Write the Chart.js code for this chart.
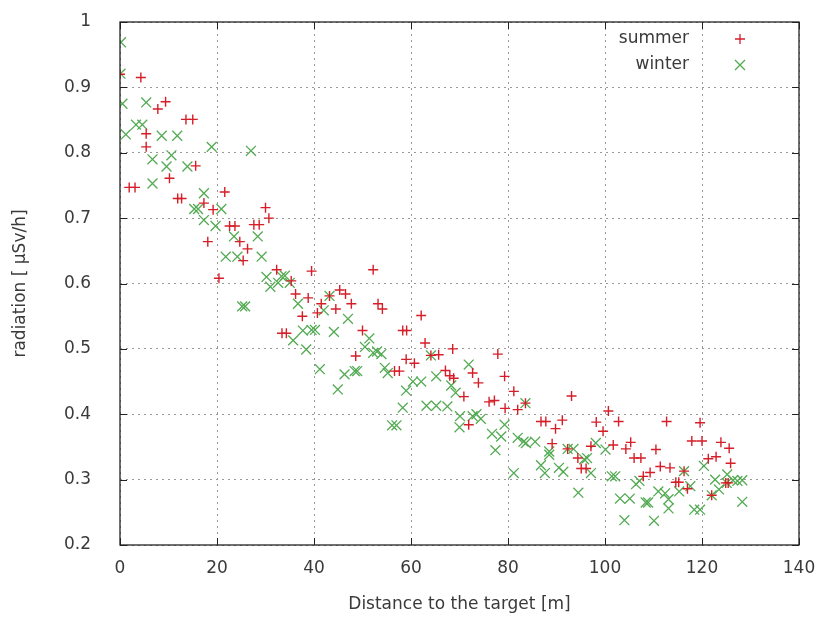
<!DOCTYPE html>
<html>
<head>
<meta charset="utf-8">
<script src="https://cdn.jsdelivr.net/npm/chart.js@4/dist/chart.umd.min.js"></script>
<style>
  html, body { margin: 0; padding: 0; background: #fff; }
  #wrap { width: 820px; height: 617px; }
</style>
</head>
<body>
<div id="wrap"><canvas id="chart" width="820" height="617"></canvas></div>
<script>
// distance [m] and radiation [uSv/h]
const summerX = [0, 4.3, 9.4, 7.8, 13.6, 15.0, 5.4, 5.4, 15.6, 10.2, 1.9, 3.1, 11.9, 12.7, 17.3, 21.6, 19.2, 30.0, 30.7, 22.6,
  23.7, 27.6, 28.7, 18.1, 24.7, 26.3, 25.4, 32.3, 20.4, 35.3, 39.5, 52.2, 36.2, 38.8, 41.5, 43.2, 45.3, 46.5, 47.7, 53.2,
  54.1, 44.5, 40.7, 37.6, 62.1, 33.4, 34.3, 50.0, 58.3, 59.1, 62.9, 48.6, 64.1, 65.7, 68.6, 77.9, 59.0, 60.7, 56.6, 57.6,
  67.1, 68.0, 68.8, 72.7, 73.9, 79.3, 70.9, 81.2, 93.1, 76.1, 77.2, 79.4, 83.6, 82.0, 86.8, 87.8, 91.2, 98.2, 71.9, 89.8,
  89.1, 92.3, 97.1, 94.4, 95.1, 96.1, 100.7, 102.8, 112.7, 119.6, 99.6, 101.7, 105.3, 104.3, 110.5, 117.9, 120.0, 123.9, 125.6, 106.0,
  107.4, 121.3, 122.9, 125.9, 111.4, 113.4, 107.9, 109.3, 116.3, 114.6, 115.2, 117.0, 124.9, 125.4, 122.0]
const summerY = [0.920, 0.915, 0.878, 0.867, 0.851, 0.851, 0.829, 0.809, 0.780, 0.761, 0.747, 0.747, 0.730, 0.730, 0.723, 0.740, 0.713, 0.716, 0.700, 0.688,
  0.688, 0.690, 0.690, 0.664, 0.664, 0.653, 0.635, 0.621, 0.608, 0.604, 0.619, 0.621, 0.584, 0.578, 0.569, 0.581, 0.590, 0.584, 0.569, 0.569,
  0.561, 0.561, 0.555, 0.550, 0.551, 0.524, 0.524, 0.528, 0.528, 0.528, 0.509, 0.489, 0.490, 0.491, 0.500, 0.492, 0.484, 0.478, 0.466, 0.466,
  0.467, 0.459, 0.455, 0.463, 0.448, 0.458, 0.427, 0.435, 0.428, 0.419, 0.421, 0.409, 0.417, 0.407, 0.389, 0.389, 0.391, 0.388, 0.384, 0.378,
  0.355, 0.347, 0.351, 0.333, 0.317, 0.317, 0.405, 0.389, 0.389, 0.387, 0.374, 0.353, 0.357, 0.347, 0.346, 0.359, 0.359, 0.357, 0.348, 0.333,
  0.333, 0.332, 0.335, 0.325, 0.320, 0.318, 0.305, 0.311, 0.313, 0.296, 0.296, 0.286, 0.295, 0.295, 0.276]

const winterX = [0.2, 0.1, 0.5, 5.4, 3.3, 4.6, 1.2, 8.6, 11.8, 18.9, 27.0, 6.7, 10.6, 9.6, 13.9, 6.7, 17.3, 15.3, 16.1, 20.9,
  17.3, 19.7, 23.5, 28.4, 21.8, 24.2, 29.2, 30.2, 31.0, 25.2, 25.8, 33.3, 34.0, 35.0, 32.6, 36.7, 43.2, 42.0, 47.0, 37.7,
  39.5, 40.2, 44.1, 51.4, 35.7, 38.4, 50.5, 52.2, 53.0, 53.9, 64.1, 41.2, 46.3, 48.4, 48.9, 54.6, 55.2, 44.9, 60.4, 62.1,
  65.2, 71.9, 59.0, 58.3, 63.2, 65.2, 67.5, 56.1, 57.0, 68.3, 69.2, 70.1, 72.7, 73.5, 74.4, 70.0, 79.3, 83.6, 76.7, 78.6,
  77.4, 82.0, 83.2, 83.7, 85.6, 88.5, 88.5, 92.3, 93.5, 98.1, 95.7, 96.3, 86.8, 87.6, 90.5, 91.4, 81.2, 97.1, 94.5, 100.1,
  101.4, 102.1, 116.3, 120.4, 106.4, 107.1, 117.6, 111.0, 112.4, 113.1, 115.3, 122.7, 123.5, 125.2, 126.4, 127.3, 128.3, 128.3, 122.0, 103.1,
  105.1, 108.4, 108.9, 113.1, 118.4, 119.6, 104.0, 110.1, 125.1]
const winterY = [0.969, 0.921, 0.875, 0.877, 0.843, 0.843, 0.828, 0.826, 0.826, 0.809, 0.803, 0.790, 0.796, 0.779, 0.779, 0.753, 0.738, 0.714, 0.714, 0.714,
  0.697, 0.688, 0.672, 0.672, 0.641, 0.641, 0.641, 0.610, 0.595, 0.565, 0.565, 0.611, 0.612, 0.601, 0.601, 0.569, 0.581, 0.559, 0.546, 0.528,
  0.529, 0.529, 0.526, 0.516, 0.513, 0.499, 0.503, 0.494, 0.496, 0.492, 0.490, 0.469, 0.461, 0.466, 0.466, 0.471, 0.463, 0.438, 0.450, 0.450,
  0.458, 0.476, 0.436, 0.410, 0.413, 0.413, 0.412, 0.383, 0.383, 0.444, 0.433, 0.397, 0.397, 0.400, 0.393, 0.380, 0.384, 0.417, 0.370, 0.366,
  0.345, 0.364, 0.358, 0.356, 0.358, 0.343, 0.338, 0.347, 0.347, 0.356, 0.331, 0.333, 0.322, 0.310, 0.318, 0.312, 0.310, 0.310, 0.280, 0.346,
  0.305, 0.305, 0.313, 0.321, 0.293, 0.298, 0.290, 0.282, 0.279, 0.270, 0.282, 0.300, 0.285, 0.308, 0.299, 0.298, 0.299, 0.266, 0.276, 0.271,
  0.271, 0.265, 0.265, 0.256, 0.254, 0.254, 0.238, 0.237, 0.295]

const xTicks = [0, 20, 40, 60, 80, 100, 120, 140]
const yTicks = [0.2, 0.3, 0.4, 0.5, 0.6, 0.7, 0.8, 0.9, 1]
const seriesNames = ['summer', 'winter']

const red = 'rgb(214, 30, 40)'
const green = 'rgb(82, 170, 82)'
const fontFamily = '"DejaVu Sans", "Noto Sans CJK JP", sans-serif'
const textColor = '#3a3a3a'

const toPoints = (xs, ys) => xs.map((x, i) => ({ x, y: ys[i] }))

// gnuplot-like frame with inward ticks
const framePlugin = {
  id: 'frame',
  afterDatasetsDraw(chart) {
    const { ctx, chartArea: a, scales } = chart
    ctx.save()
    ctx.strokeStyle = '#222'
    ctx.lineWidth = 1.3
    ctx.strokeRect(a.left, a.top, a.right - a.left, a.bottom - a.top)
    ctx.lineWidth = 1
    ctx.beginPath()
    xTicks.forEach((v) => {
      const px = Math.round(scales.x.getPixelForValue(v)) + 0.5
      ctx.moveTo(px, a.bottom); ctx.lineTo(px, a.bottom - 7)
      ctx.moveTo(px, a.top); ctx.lineTo(px, a.top + 7)
    })
    yTicks.forEach((v) => {
      const py = Math.round(scales.y.getPixelForValue(v)) + 0.5
      ctx.moveTo(a.left, py); ctx.lineTo(a.left + 7, py)
      ctx.moveTo(a.right, py); ctx.lineTo(a.right - 7, py)
    })
    ctx.stroke()
    ctx.restore()
  },
}

// key in the top right corner, inside the plot
const keyPlugin = {
  id: 'key',
  afterDraw(chart) {
    const { ctx, chartArea: a } = chart
    ctx.save()
    ctx.font = '17px ' + fontFamily
    ctx.fillStyle = textColor
    ctx.textAlign = 'right'
    ctx.textBaseline = 'middle'
    const textX = a.right - 110
    const symX = a.right - 59
    seriesNames.forEach((name, i) => {
      const y = a.top + 17 + i * 26
      ctx.fillText(name, textX, y)
      ctx.lineWidth = 1.3
      ctx.beginPath()
      if (i === 0) {
        ctx.strokeStyle = red
        ctx.moveTo(symX - 5, y); ctx.lineTo(symX + 5, y)
        ctx.moveTo(symX, y - 5); ctx.lineTo(symX, y + 5)
      } else {
        ctx.strokeStyle = green
        ctx.moveTo(symX - 5, y - 5); ctx.lineTo(symX + 5, y + 5)
        ctx.moveTo(symX - 5, y + 5); ctx.lineTo(symX + 5, y - 5)
      }
      ctx.stroke()
    })
    ctx.restore()
  },
}

new Chart(document.getElementById('chart'), {
  type: 'scatter',
  data: {
    datasets: [
      {
        label: seriesNames[0],
        data: toPoints(summerX, summerY),
        pointStyle: 'cross',
        radius: 5,
        borderColor: red,
        backgroundColor: red,
        borderWidth: 1.4,
      },
      {
        label: seriesNames[1],
        data: toPoints(winterX, winterY),
        pointStyle: 'crossRot',
        radius: 7,
        borderColor: green,
        backgroundColor: green,
        borderWidth: 1.3,
      },
    ],
  },
  options: {
    responsive: false,
    animation: false,
    layout: { padding: { top: 22, right: 21, left: 0, bottom: 0 } },
    plugins: { legend: { display: false }, tooltip: { enabled: false } },
    scales: {
      x: {
        type: 'linear',
        min: 0,
        max: 140,
        afterBuildTicks: (scale) => { scale.ticks = xTicks.map((v) => ({ value: v })) },
        afterFit: (scale) => {
          scale.height = 72
          scale.paddingLeft = 0
          scale.paddingRight = 0
        },
        ticks: { padding: 13, color: textColor, font: { size: 17, family: fontFamily } },
        grid: { color: '#999', lineWidth: 1, drawTicks: false },
        border: { display: false, dash: [2, 4] },
        title: {
          display: true,
          text: 'Distance to the target [m]',
          color: textColor,
          font: { size: 17, family: fontFamily },
          padding: { top: 0, bottom: 2 },
        },
      },
      y: {
        type: 'linear',
        min: 0.2,
        max: 1,
        afterBuildTicks: (scale) => { scale.ticks = yTicks.map((v) => ({ value: v })) },
        afterFit: (scale) => {
          scale.width = 120
          scale.paddingTop = 0
          scale.paddingBottom = 0
        },
        ticks: {
          padding: 29,
          color: textColor,
          font: { size: 17, family: fontFamily },
          callback: (v) => String(Math.round(v * 10) / 10),
        },
        grid: { color: '#999', lineWidth: 1, drawTicks: false },
        border: { display: false, dash: [2, 4] },
        title: {
          display: true,
          text: 'radiation [ μSv/h]',
          color: textColor,
          font: { size: 17, family: fontFamily },
          padding: { top: 10, bottom: 0 },
        },
      },
    },
  },
  plugins: [framePlugin, keyPlugin],
})
</script>
</body>
</html>
